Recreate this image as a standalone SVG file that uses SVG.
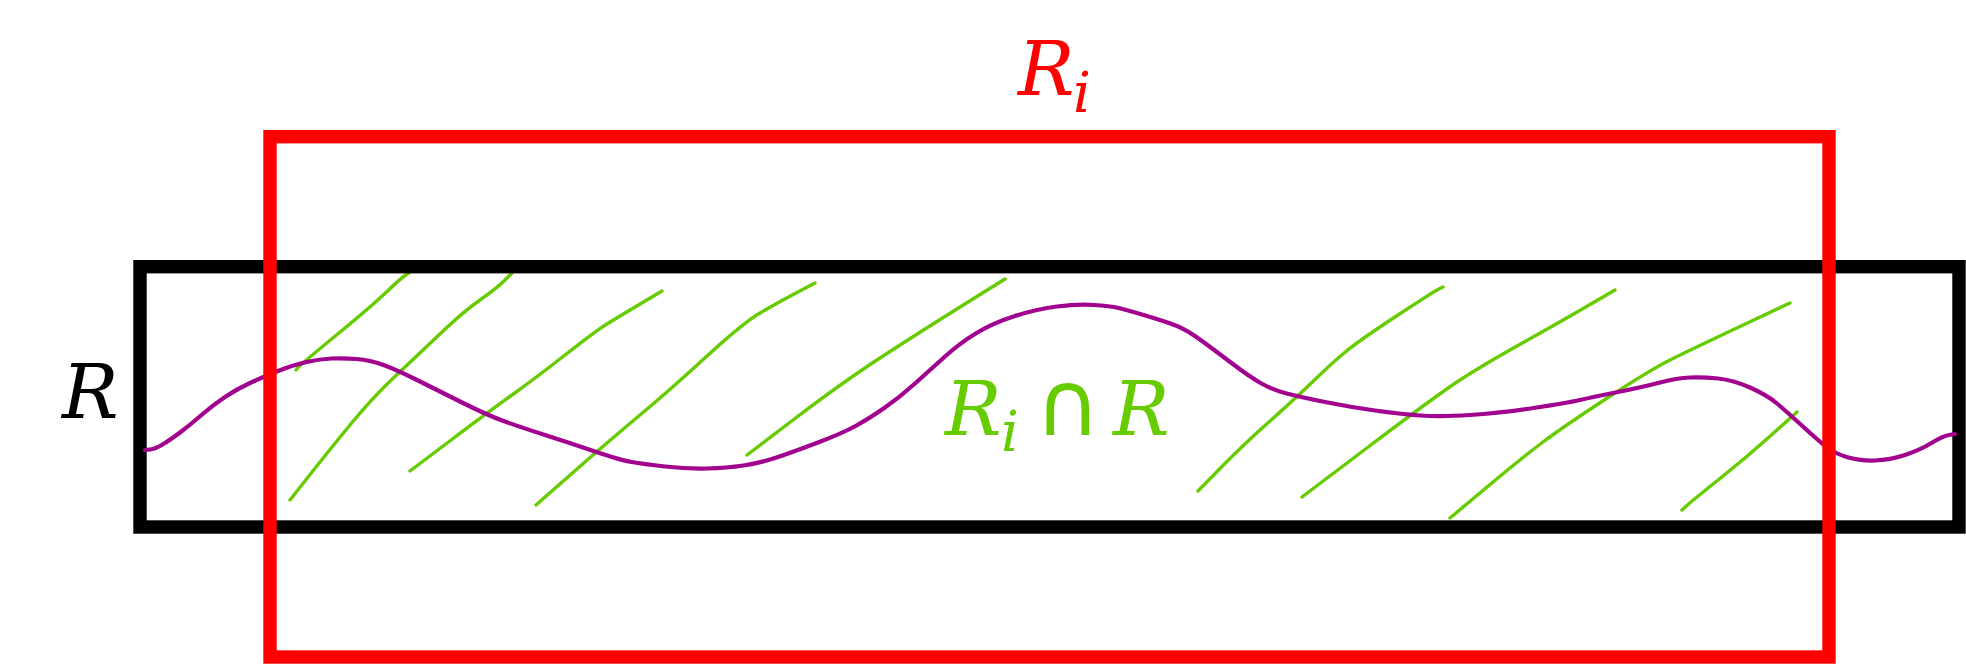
<svg xmlns="http://www.w3.org/2000/svg" width="1966" height="664" viewBox="0 0 1966 664">
<style>
.frame{fill:none;stroke-width:13.4;stroke-linejoin:miter}
.hatch{fill:none;stroke:#66cc00;stroke-width:3.4;stroke-linecap:round;stroke-linejoin:round}
.curve{fill:none;stroke:#a2038e;stroke-width:4.2;stroke-linecap:round;stroke-linejoin:round}
.it{font-family:"DejaVu Serif","Liberation Serif",serif;font-style:italic}
.sym{font-family:"DejaVu Sans","Liberation Sans",sans-serif}
</style>
<rect width="1966" height="664" fill="#ffffff"/>
<g id="hatching">
<path class="hatch" d="M296,370 L298,367.5 Q300,365 336.5,335 Q373,305 386.5,292 Q400,279 405,275.5 L410,272"/>
<path class="hatch" d="M290,500 L308.5,476.5 Q327,453 350,425 Q373,397 396.5,375 Q420,353 441.5,332.5 Q463,312 480,300 Q497,288 504.5,280.5 L512,273"/>
<path class="hatch" d="M410,471 L448.5,442 Q487,413 512,395 Q537,377 567,353.5 Q597,330 608.5,323 Q620,316 641,303.5 L662,291"/>
<path class="hatch" d="M536,505 L573,472.5 Q610,440 640,415 Q670,390 706.5,356.5 Q743,323 760,313 Q777,303 796,293 L815,283"/>
<path class="hatch" d="M747,455 L795,418.5 Q843,382 881.5,357 Q920,332 962.5,305.5 L1005,279"/>
<path class="hatch" d="M1198,491 L1220.5,468 Q1243,445 1270,421 Q1297,397 1315,379.5 Q1333,362 1346.5,351 Q1360,340 1396.5,316 Q1433,292 1438,289.5 L1443,287"/>
<path class="hatch" d="M1302,497 L1369.5,446 Q1437,395 1460,380 Q1483,365 1521.5,343.5 Q1560,322 1587.5,306 L1615,290"/>
<path class="hatch" d="M1450,518 L1486.5,487.5 Q1523,457 1543,442 Q1563,427 1606.5,398.5 Q1650,370 1670,360 Q1690,350 1740,326.5 L1790,303"/>
<path class="hatch" d="M1682,510 L1687.5,505 Q1693,500 1720,478.5 Q1747,457 1772,434.5 L1797,412"/>
</g>
<g id="region-R">
<rect class="frame" x="140" y="266.7" width="1819" height="260.3" stroke="#000000"/>
<text class="it" x="62" y="418" font-size="75" fill="#000000">R</text>
</g>
<g id="curve">
<path class="curve" d="M145,450 L150,449.5 Q155,449 162.5,444.5 Q170,440 180,432.5 Q190,425 201.5,415 Q213,405 225,397 Q237,389 250,383 Q263,377 278,371 Q293,365 306.5,362 Q320,359 331.5,358.5 Q343,358 356.5,359 Q370,360 383.5,365 Q397,370 417,380 Q437,390 462,402.5 Q487,415 503.5,421 Q520,427 545,435 Q570,443 595,451.5 Q620,460 631.5,462 Q643,464 665,466.5 Q687,469 707,468.5 Q727,468 743.5,465.5 Q760,463 776.5,457.5 Q793,452 818,442.5 Q843,433 856.5,425.5 Q870,418 885,407.5 Q900,397 915,383.5 Q930,370 945,356.5 Q960,343 976.5,333 Q993,323 1015,316 Q1037,309 1057,306.5 Q1077,304 1093.5,305 Q1110,306 1118.5,308 Q1127,310 1147,316 Q1167,322 1177,326 Q1187,330 1202,341 Q1217,352 1233.5,364.5 Q1250,377 1261.5,383.5 Q1273,390 1286.5,393.5 Q1300,397 1325,402 Q1350,407 1375,410.5 Q1400,414 1420,415.5 Q1440,417 1470,415 Q1500,413 1533.5,408 Q1567,403 1580,400 Q1593,397 1618,392 Q1643,387 1660,382.5 Q1677,378 1690,377.5 Q1703,377 1718,378.5 Q1733,380 1750,387.5 Q1767,395 1777,403.5 Q1787,412 1798.5,422.5 Q1810,433 1821.5,443 Q1833,453 1846.5,457 Q1860,461 1875,460.5 Q1890,460 1905,455 Q1920,450 1931.5,443 Q1943,436 1949,435 L1955,434"/>
</g>
<g id="region-Ri">
<rect class="frame" x="270" y="136.7" width="1559" height="520.3" stroke="#ff0000"/>
<text class="it" x="1018" y="95" font-size="75" fill="#ff0000">R</text>
<text class="it" x="1073" y="112" font-size="56" fill="#ff0000">i</text>
</g>
<g id="intersection-label" fill="#66cc00">
<text class="it" x="945" y="435" font-size="75">R</text>
<text class="it" x="1001" y="451" font-size="56">i</text>
<text class="sym" x="1035" y="435" font-size="90">∩</text>
<text class="it" x="1113" y="435" font-size="75">R</text>
</g>
<g id="connectors"/>
</svg>
